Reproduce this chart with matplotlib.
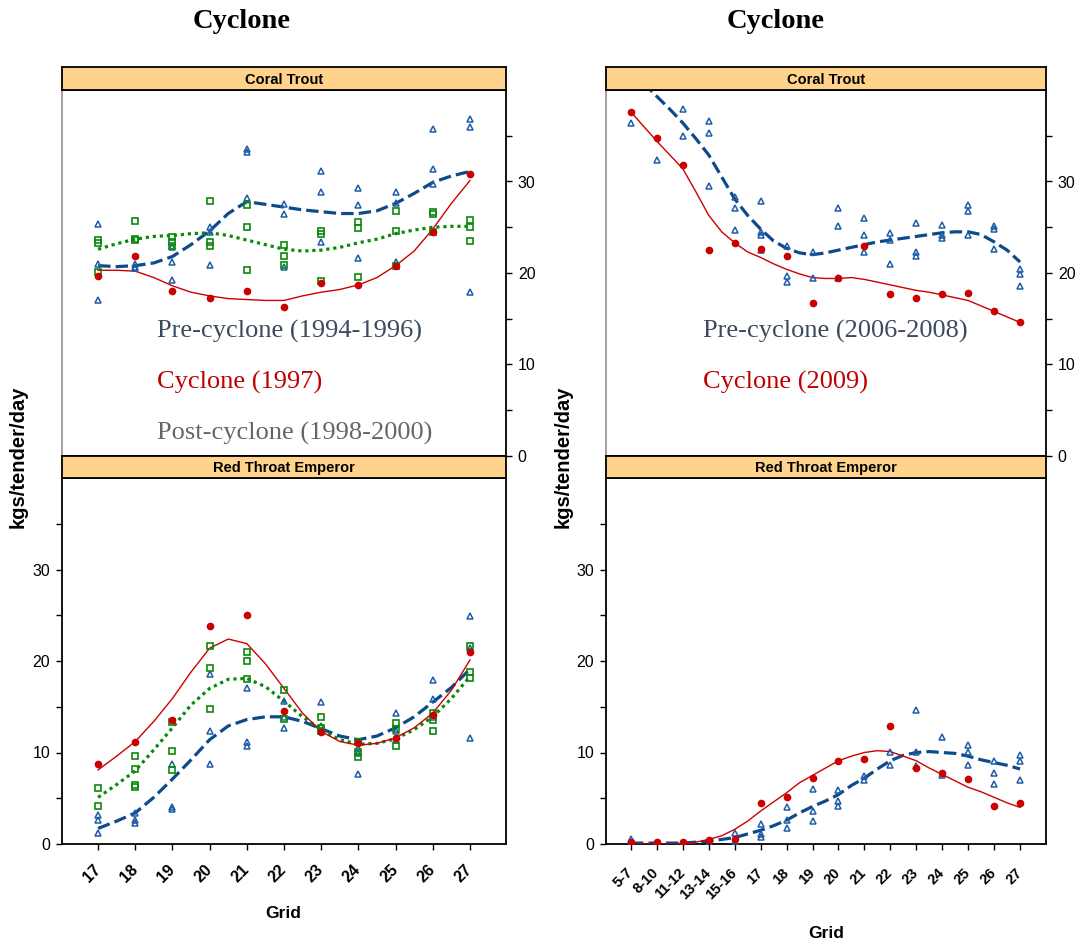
import numpy as np
import matplotlib
matplotlib.use("Agg")
import matplotlib.pyplot as plt

# ---- data ----
left_grid = [17, 18, 19, 20, 21, 22, 23, 24, 25, 26, 27]
right_cats = ['5-7', '8-10', '11-12', '13-14', '15-16', '17', '18', '19', '20',
              '21', '22', '23', '24', '25', '26', '27']

# left column, Coral Trout (pre = triangles, post = squares, cyclone = dots)
lct_pre = [[25.4, 21.0, 17.1], [21.0, 20.7, 20.5], [22.8, 21.2, 19.2], [25.0, 24.5, 20.9],
           [33.5, 33.2, 28.2], [27.5, 26.4, 20.7], [31.1, 28.9, 23.4], [29.3, 27.4, 21.6],
           [28.9, 27.6, 21.2], [35.7, 31.4, 29.7], [36.8, 36.0, 17.9]]
lct_post = [[23.6, 23.3, 20.1], [25.7, 23.7, 23.6], [23.9, 23.4, 22.9], [27.9, 23.4, 23.0],
            [27.4, 25.0, 20.3], [23.1, 21.9, 20.9], [24.6, 24.3, 19.1], [25.6, 24.9, 19.6],
            [26.8, 24.6, 20.8], [26.7, 26.4, 24.5], [25.8, 25.0, 23.5]]
lct_cyc = [19.7, 21.9, 18.0, 17.3, 18.0, 16.3, 18.9, 18.7, 20.8, 24.5, 30.8]

# left column, Red Throat Emperor
lrt_pre = [[3.2, 2.6, 1.2], [3.4, 2.6, 2.3], [8.7, 4.0, 3.8], [18.6, 12.4, 8.7],
           [17.0, 11.2, 10.7], [15.6, 13.9, 12.7], [15.5, 12.9, 12.4], [10.5, 10.0, 7.6],
           [14.3, 12.3, 11.4], [17.9, 15.9, 13.9], [24.9, 21.4, 11.6]]
lrt_post = [[6.1, 4.1], [9.6, 8.2, 6.4, 6.2], [13.3, 10.2, 8.1], [21.6, 19.2, 14.7],
            [21.0, 20.0, 18.0], [16.8, 13.7], [13.9, 12.7, 12.3], [11.1, 10.1, 9.5],
            [13.2, 12.6, 10.7], [14.3, 13.5, 12.3], [21.6, 18.8, 18.1]]
lrt_cyc = [8.7, 11.1, 13.5, 23.8, 25.0, 14.5, 12.2, 11.0, 11.6, 14.1, 21.0]

# smooth curves, read every half grid step
left_curve_x = [17, 17.5, 18, 18.5, 19, 19.5, 20, 20.5, 21, 21.5, 22, 22.5, 23, 23.5,
                24, 24.5, 25, 25.5, 26, 26.5, 27]
lct_pre_fit = [20.8, 20.7, 20.8, 21.1, 21.8, 23.1, 24.6, 26.5, 27.8, 27.5, 27.2, 26.9, 26.7,
               26.5, 26.5, 26.8, 27.6, 28.7, 29.9, 30.6, 31.1]
lct_post_fit = [22.6, 23.2, 23.7, 24.0, 24.1, 24.3, 24.4, 24.1, 23.6, 23.1, 22.6, 22.4, 22.5,
                22.8, 23.3, 23.7, 24.3, 24.7, 25.0, 25.1, 25.1]
lct_cyc_fit = [20.3, 20.3, 20.2, 19.5, 18.6, 17.9, 17.5, 17.2, 17.1, 17.0, 17.0, 17.5, 17.9,
               18.2, 18.7, 19.5, 20.8, 22.4, 24.8, 27.6, 30.1]
lrt_pre_fit = [1.7, 2.5, 3.4, 5.1, 7.1, 9.2, 11.4, 12.9, 13.6, 13.9, 13.9, 13.4, 12.6, 11.8,
               11.4, 11.8, 12.7, 13.9, 15.5, 17.1, 19.1]
lrt_post_fit = [5.1, 6.5, 8.0, 10.3, 12.7, 15.2, 17.0, 18.0, 18.1, 17.2, 15.6, 13.9, 12.5,
                11.4, 10.9, 11.0, 11.5, 12.5, 13.9, 15.9, 18.3]
lrt_cyc_fit = [8.1, 9.6, 11.2, 13.4, 15.9, 18.8, 21.4, 22.4, 21.9, 19.7, 17.0, 14.3, 12.3,
               11.2, 10.8, 11.0, 11.6, 12.7, 14.3, 16.8, 20.1]

# right column, Coral Trout
rct_pre = [[36.4], [32.3], [37.9, 35.0], [36.6, 35.3, 29.5], [28.3, 27.1, 24.7],
           [27.9, 24.5, 24.1, 22.5], [23.0, 19.7, 19.0], [22.3, 19.5], [27.1, 25.1, 19.5],
           [26.0, 24.2, 22.3], [24.4, 23.6, 21.0], [25.5, 22.3, 21.9], [25.3, 24.1, 23.8],
           [27.4, 26.8, 24.2], [25.1, 24.8, 22.6], [20.4, 19.9, 18.6]]
rct_cyc = [37.6, 34.8, 31.8, 22.5, 23.3, 22.6, 21.9, 16.7, 19.4, 22.9, 17.7, 17.3, 17.7,
           17.8, 15.8, 14.6]

# right column, Red Throat Emperor
rrt_pre = [[0.5, 0.1], [0.1], [0.1], [0.1], [1.2, 0.3], [2.2, 1.1, 0.8], [4.0, 2.6, 1.7],
           [6.0, 3.6, 2.5], [5.9, 4.7, 4.2], [7.4, 7.0], [10.1, 8.6], [14.6, 10.1, 8.5],
           [11.7, 7.5], [10.8, 10.1, 8.6], [9.1, 7.8, 6.6], [9.7, 9.1, 7.0]]
rrt_cyc = [0.2, 0.2, 0.2, 0.4, 0.6, 4.5, 5.1, 7.2, 9.1, 9.3, 12.9, 8.3, 7.8, 7.1, 4.2, 4.5]

right_curve_x = [1, 1.5, 2, 2.5, 3, 3.5, 4, 4.5, 5, 5.5, 6, 6.5, 7, 7.5, 8, 8.5, 9, 9.5, 10,
                 10.5, 11, 11.5, 12, 12.5, 13, 13.5, 14, 14.5, 15, 15.5, 16]
rct_pre_fit = [42.1, 40.7, 39.3, 37.9, 36.4, 34.7, 32.9, 30.5, 28.1, 26.3, 24.8, 23.5, 22.7,
               22.2, 22.0, 22.2, 22.5, 22.8, 23.1, 23.4, 23.6, 23.8, 24.0, 24.2, 24.4, 24.5,
               24.5, 24.2, 23.4, 22.5, 21.2]
rct_cyc_fit = [37.6, 36.0, 34.4, 32.9, 31.4, 28.9, 26.3, 24.5, 23.3, 22.3, 21.7, 21.0, 20.4,
               19.9, 19.5, 19.4, 19.4, 19.5, 19.3, 19.0, 18.7, 18.4, 18.1, 17.9, 17.6, 17.3,
               17.0, 16.4, 15.8, 15.2, 14.6]
rrt_pre_fit = [0.1, 0.1, 0.1, 0.1, 0.1, 0.2, 0.3, 0.5, 0.7, 1.1, 1.5, 2.0, 2.6, 3.4, 4.1, 4.7,
               5.4, 6.4, 7.2, 8.2, 9.1, 9.7, 10.0, 10.1, 10.0, 9.9, 9.6, 9.2, 8.9, 8.6, 8.2]
rrt_cyc_fit = [0.0, 0.0, 0.0, 0.0, 0.0, 0.2, 0.5, 0.9, 1.6, 2.5, 3.6, 4.6, 5.6, 6.7, 7.5, 8.3,
               9.1, 9.6, 10.0, 10.2, 10.1, 9.6, 9.1, 8.3, 7.6, 6.9, 6.2, 5.7, 5.1, 4.5, 4.0]

# ---- styling ----
BLUE_LINE = '#0d4a8c'
BLUE_PT = '#1f5ca8'
GREEN = '#0a8a0a'
RED = '#cc0000'
STRIP = '#ffd38c'
NARROW = ['Liberation Sans Narrow', 'Liberation Sans', 'DejaVu Sans']
SERIF = ['Liberation Serif', 'DejaVu Serif']

W, H = 1079, 946
fig = plt.figure(figsize=(W / 100, H / 100), dpi=100)


def rect(x0, y0, x1, y1):
    return [x0 / W, 1 - y1 / H, (x1 - x0) / W, (y1 - y0) / H]


def flat(xs, groups):
    px, py = [], []
    for x, g in zip(xs, groups):
        for v in g:
            px.append(x)
            py.append(v)
    return px, py


def strip(x0, x1, y0, y1, title):
    s = fig.add_axes(rect(x0, y0, x1, y1))
    s.set_facecolor(STRIP)
    s.set_xticks([])
    s.set_yticks([])
    for sp in s.spines.values():
        sp.set_linewidth(1.3)
    s.text(0.5, 0.45, title, ha='center', va='center', fontsize=10.5,
           fontweight='bold', family=NARROW, transform=s.transAxes)


def panel(x0, x1, y0, y1, xlim, top):
    ax = fig.add_axes(rect(x0, y0, x1, y1))
    ax.set_xlim(*xlim)
    ax.set_ylim(0, 40)
    ax.set_yticks(range(0, 40, 5))
    ax.set_yticklabels([str(v) if v % 10 == 0 else '' for v in range(0, 40, 5)],
                       family=NARROW, fontsize=11.5)
    for sp in ax.spines.values():
        sp.set_linewidth(1.3)
    if top:
        ax.yaxis.tick_right()
        ax.set_xticks([])
        ax.spines['left'].set_color('#999999')
    ax.tick_params(axis='y', direction='out', length=4.5, width=1.0, pad=4)
    return ax


def draw_pre(ax, xs, groups, cx, fit):
    ax.plot(cx, fit, color=BLUE_LINE, lw=2.3, dashes=(3.9, 1.6), zorder=3)
    px, py = flat(xs, groups)
    ax.plot(px, py, ls='none', marker='^', ms=5, mfc='none', mec=BLUE_PT, mew=1.1, zorder=4)


def draw_post(ax, xs, groups, cx, fit):
    ax.plot(cx, fit, color=GREEN, lw=2.3, dashes=(1.0, 1.2), zorder=3)
    px, py = flat(xs, groups)
    ax.plot(px, py, ls='none', marker='s', ms=4.5, mfc='none', mec=GREEN, mew=1.2, zorder=4)


def draw_cyc(ax, xs, vals, cx, fit):
    ax.plot(cx, fit, color=RED, lw=1.0, zorder=3)
    ax.plot(xs, vals, ls='none', marker='o', ms=4.5, color=RED, zorder=5)


# ---- left column ----
ax = panel(62, 506, 90, 456, (16.03, 27.97), True)
draw_pre(ax, left_grid, lct_pre, left_curve_x, lct_pre_fit)
draw_post(ax, left_grid, lct_post, left_curve_x, lct_post_fit)
draw_cyc(ax, left_grid, lct_cyc, left_curve_x, lct_cyc_fit)
strip(62, 506, 67, 90, 'Coral Trout')

ax = panel(62, 506, 478, 844, (16.03, 27.97), False)
draw_pre(ax, left_grid, lrt_pre, left_curve_x, lrt_pre_fit)
draw_post(ax, left_grid, lrt_post, left_curve_x, lrt_post_fit)
draw_cyc(ax, left_grid, lrt_cyc, left_curve_x, lrt_cyc_fit)
ax.set_xticks(left_grid)
ax.set_xticklabels([str(g) for g in left_grid], rotation=45, ha='right', va='center',
                   rotation_mode='anchor', fontweight='bold', family=NARROW, fontsize=11.5)
ax.tick_params(axis='x', direction='out', length=4, width=1.0, pad=13)
strip(62, 506, 456, 478, 'Red Throat Emperor')

# ---- right column ----
rpos = list(range(1, len(right_cats) + 1))
ax = panel(606, 1046, 90, 456, (0.04, 17.0), True)
draw_pre(ax, rpos, rct_pre, right_curve_x, rct_pre_fit)
draw_cyc(ax, rpos, rct_cyc, right_curve_x, rct_cyc_fit)
strip(606, 1046, 67, 90, 'Coral Trout')

ax = panel(606, 1046, 478, 844, (0.04, 17.0), False)
draw_pre(ax, rpos, rrt_pre, right_curve_x, rrt_pre_fit)
draw_cyc(ax, rpos, rrt_cyc, right_curve_x, rrt_cyc_fit)
ax.set_xticks(rpos)
ax.set_xticklabels(right_cats, rotation=45, ha='right', va='center',
                   rotation_mode='anchor', fontweight='bold', family=NARROW, fontsize=10.5)
ax.tick_params(axis='x', direction='out', length=4, width=1.0, pad=15)
strip(606, 1046, 456, 478, 'Red Throat Emperor')

# ---- titles, axis labels, legend text ----
fig.text(242 / W, 1 - 22 / H, 'Cyclone', ha='center', va='center', fontsize=20.5,
         fontweight='bold', family=SERIF)
fig.text(776 / W, 1 - 22 / H, 'Cyclone', ha='center', va='center', fontsize=20.5,
         fontweight='bold', family=SERIF)
fig.text(18 / W, 1 - 457 / H, 'kgs/tender/day', rotation=90, ha='center', va='center',
         fontsize=14.5, fontweight='bold', family=['Liberation Sans', 'DejaVu Sans'])
fig.text(563 / W, 1 - 457 / H, 'kgs/tender/day', rotation=90, ha='center', va='center',
         fontsize=14.5, fontweight='bold', family=['Liberation Sans', 'DejaVu Sans'])
fig.text(283 / W, 1 - 913 / H, 'Grid', ha='center', va='center', fontsize=12.5,
         fontweight='bold', family=NARROW)
fig.text(826 / W, 1 - 933 / H, 'Grid', ha='center', va='center', fontsize=12.5,
         fontweight='bold', family=NARROW)

fig.text(157 / W, 1 - 331 / H, 'Pre-cyclone (1994-1996)', ha='left', va='center',
         fontsize=19, color='#3b4a5e', family=SERIF)
fig.text(157 / W, 1 - 382 / H, 'Cyclone (1997)', ha='left', va='center',
         fontsize=19, color='#c00000', family=SERIF)
fig.text(157 / W, 1 - 433 / H, 'Post-cyclone (1998-2000)', ha='left', va='center',
         fontsize=19, color='#666666', family=SERIF)
fig.text(703 / W, 1 - 331 / H, 'Pre-cyclone (2006-2008)', ha='left', va='center',
         fontsize=19, color='#3b4a5e', family=SERIF)
fig.text(703 / W, 1 - 382 / H, 'Cyclone (2009)', ha='left', va='center',
         fontsize=19, color='#c00000', family=SERIF)

fig.savefig('out.png', dpi=100)
